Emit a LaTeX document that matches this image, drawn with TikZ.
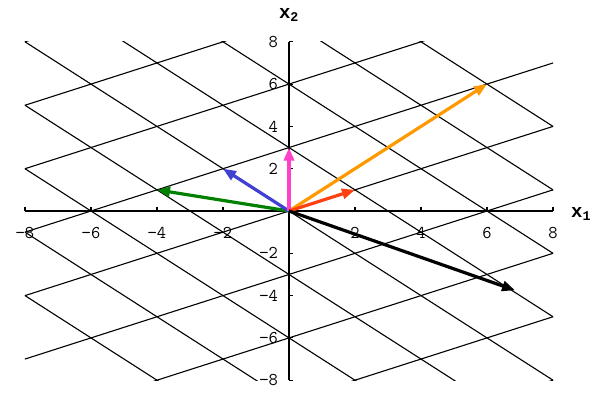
\documentclass[tikz,border=0pt]{standalone}
\usepackage{fontspec}
\setmainfont{Liberation Mono}
\usetikzlibrary{arrows.meta}
\definecolor{cred}{RGB}{255,64,16}
\definecolor{cpink}{RGB}{255,64,200}
\definecolor{cblue}{RGB}{64,64,210}
\definecolor{cgreen}{RGB}{0,128,0}
\definecolor{corange}{RGB}{255,153,0}
\tikzset{
  gridline/.style={black, line width=1.1pt},
  axisline/.style={black, line width=1.1pt},
  vec/.style={line width=3.2pt, -{Triangle[length=13pt,width=10pt]}},
  ticklab/.style={font=\fontsize{18}{20}\selectfont\ttfamily, inner sep=0pt},
  axlab/.style={font=\fontsize{19}{21}\selectfont\bfseries, inner sep=0pt}
}
\begin{document}
\begin{tikzpicture}[x=33pt,y=21.15pt]
\path[use as bounding box, fill=white] (-8.7576,-8.5579) rectangle (9.2424,9.9764);
% lattice grid (image of integer grid under M = [[2,-2],[1,2]])
\begin{scope}
\clip (-8,-8) rectangle (8,8);
\foreach \v in {-4,...,4}
  \draw[gridline] ({-24-2*\v},{-12+2*\v}) -- ({24-2*\v},{12+2*\v});
\foreach \u in {-4,...,4}
  \draw[gridline] ({2*\u+24},{\u-24}) -- ({2*\u-24},{\u+24});
\end{scope}
% axes
\coordinate (O) at (0,0);
\coordinate (xl) at (-8,0);
\coordinate (xr) at (8,0);
\coordinate (yb) at (0,-8);
\coordinate (yt) at (0,8);
\draw[axisline] (xl) -- (xr);
\draw[axisline] (yb) -- (yt);
\foreach \t in {-8,-6,-4,-2,2,4,6,8}{
  \draw[axisline] (\t,0) -- ++(0,4pt);
  \draw[axisline] (0,\t) -- ++(4pt,0);
}
\foreach \t/\s in {-8/−8,-6/−6,-4/−4,-2/−2,2/2,4/4,6/6,8/8}{
  \node[ticklab] (xt\t) at (\t,-1.05) {\s};
  \node[ticklab, anchor=east] (yt\t) at (-0.33,\t) {\s};
}
\node[axlab] (x2) at (0,9.25) {x$_{\mathbf{2}}$};
\node[axlab] (x1) at (8.85,-0.15) {x$_{\mathbf{1}}$};
% vectors
\coordinate (r) at (2,1);
\coordinate (p) at (0,3);
\coordinate (b) at (-2,2);
\coordinate (g) at (-4,1);
\coordinate (o) at (6,6);
\coordinate (k) at (6.85,-3.75);
\draw[vec, cgreen] (O) -- (g);
\draw[vec, cblue] (O) -- (b);
\draw[vec, corange] (O) -- (o);
\draw[vec, cpink] (O) -- (p);
\draw[vec, cred] (O) -- (r);
\draw[vec, black] (O) -- (k);
\end{tikzpicture}
\end{document}
